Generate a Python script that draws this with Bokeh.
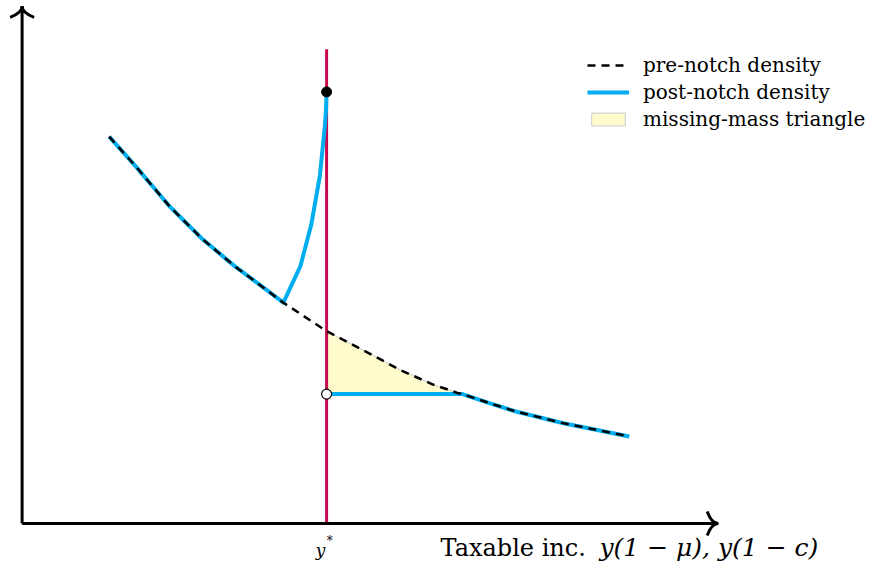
from bokeh.plotting import figure
from bokeh.models import Range1d, Legend, LegendItem
from bokeh.core.properties import value
from bokeh.embed import file_html
from bokeh.resources import INLINE

# income (y* = 5) and density values
y_star = 5.0

pre_x = [1.43, 1.88, 2.42, 2.95, 3.49, 4.03, 4.29, 5.00, 5.61, 6.21, 6.74, 7.17, 7.23, 7.71, 8.09, 8.89, 9.97]
pre_y = [0.995, 0.916, 0.816, 0.733, 0.662, 0.599, 0.568, 0.495, 0.445, 0.395, 0.358, 0.335, 0.333, 0.308, 0.289, 0.258, 0.224]

# post-notch: left part follows the curve, then bunching up to y*
bunch_x = [4.29, 4.57, 4.75, 4.89, 4.97, 4.99, 5.00]
bunch_y = [0.568, 0.662, 0.770, 0.895, 1.020, 1.062, 1.110]
# hole: flat segment above y* until it meets the curve again
flat_level = 0.333
flat_end = 7.23

W, H = 874, 562
XS, YS = 60.9, 388.9          # px per unit
ox, oy = 21.6, 523.1          # origin inside the frame, px

p = figure(width=W, height=H, output_backend="svg", toolbar_location=None,
           x_range=Range1d(-ox / XS, (W - ox) / XS),
           y_range=Range1d(-(H - oy) / YS, oy / YS),
           min_border=0)
p.axis.visible = False
p.grid.visible = False
p.outline_line_color = None

# missing-mass triangle
tri_x = [x for x in pre_x if y_star <= x <= flat_end] + [flat_end, y_star]
tri_y = [y for x, y in zip(pre_x, pre_y) if y_star <= x <= flat_end] + [flat_level, flat_level]
tri = p.patch(tri_x, tri_y, fill_color="#fffbcc", line_color="#cccccc", line_width=1)

# notch line
p.segment(x0=[y_star], y0=[0], x1=[y_star], y1=[1.22], line_color="#c4094e", line_width=3)

# post-notch density
left_x = [x for x in pre_x if x <= bunch_x[0]] + bunch_x[1:]
left_y = [y for x, y in zip(pre_x, pre_y) if x <= bunch_x[0]] + bunch_y[1:]
post = p.line(left_x, left_y, line_color="#00aeef", line_width=4, line_join="round")
right_x = [y_star, flat_end] + [x for x in pre_x if x > flat_end]
right_y = [flat_level, flat_level] + [y for x, y in zip(pre_x, pre_y) if x > flat_end]
p.line(right_x, right_y, line_color="#00aeef", line_width=4, line_join="round")

# pre-notch density
pre = p.line(pre_x, pre_y, line_color="black", line_width=2.5, line_dash="8 6")

# dots
p.scatter([y_star], [bunch_y[-1]], size=10, fill_color="black", line_color="black")
p.scatter([y_star], [flat_level], size=10, fill_color="white", line_color="black", line_width=1.2)

# axes with TikZ-like arrow tips
ytop = 1.33
xend = 11.43
p.segment(x0=[0, 0], y0=[0, 0], x1=[0, xend], y1=[ytop, 0], line_color="black", line_width=3)
ax, ay = 12 / XS, 11 / YS
p.quadratic(x0=[-ax, ax], y0=[ytop - ay, ytop - ay], x1=[0, 0], y1=[ytop, ytop],
            cx=[0, 0], cy=[ytop - 0.6 * ay, ytop - 0.6 * ay], line_color="black", line_width=3)
bx, by = 11 / XS, 12 / YS
p.quadratic(x0=[xend - bx, xend - bx], y0=[by, -by], x1=[xend, xend], y1=[0, 0],
            cx=[xend - 0.6 * bx, xend - 0.6 * bx], cy=[0, 0], line_color="black", line_width=3)

# labels
serif = value("DejaVu Serif")
p.text(x=[4.9], y=[-0.068], text=["y"], text_font=serif, text_font_style="italic",
       text_font_size="17px", text_align="center", text_baseline="alphabetic")
p.text(x=[5.05], y=[-0.068 + 9 / YS], text=["*"], text_font=serif,
       text_font_size="12px", text_align="center", text_baseline="alphabetic")
p.text(x=[6.87], y=[-0.062], text=["Taxable inc."], text_font=serif,
       text_font_size="24px", text_baseline="alphabetic")
p.text(x=[9.48], y=[-0.062], text=["y(1 − μ), y(1 − c)"], text_font=serif,
       text_font_style="italic", text_font_size="25px", text_baseline="alphabetic")

legend = Legend(items=[LegendItem(label="pre-notch density", renderers=[pre]),
                       LegendItem(label="post-notch density", renderers=[post]),
                       LegendItem(label="missing-mass triangle", renderers=[tri])],
                location=(587, 431), padding=0, margin=0, spacing=3,
                glyph_width=42, glyph_height=16, label_standoff=14,
                label_text_font="DejaVu Serif", label_text_font_size="20px",
                label_text_color="black",
                background_fill_alpha=0, border_line_alpha=0)
p.add_layout(legend)

open("out.html", "w").write(file_html(p, INLINE))
